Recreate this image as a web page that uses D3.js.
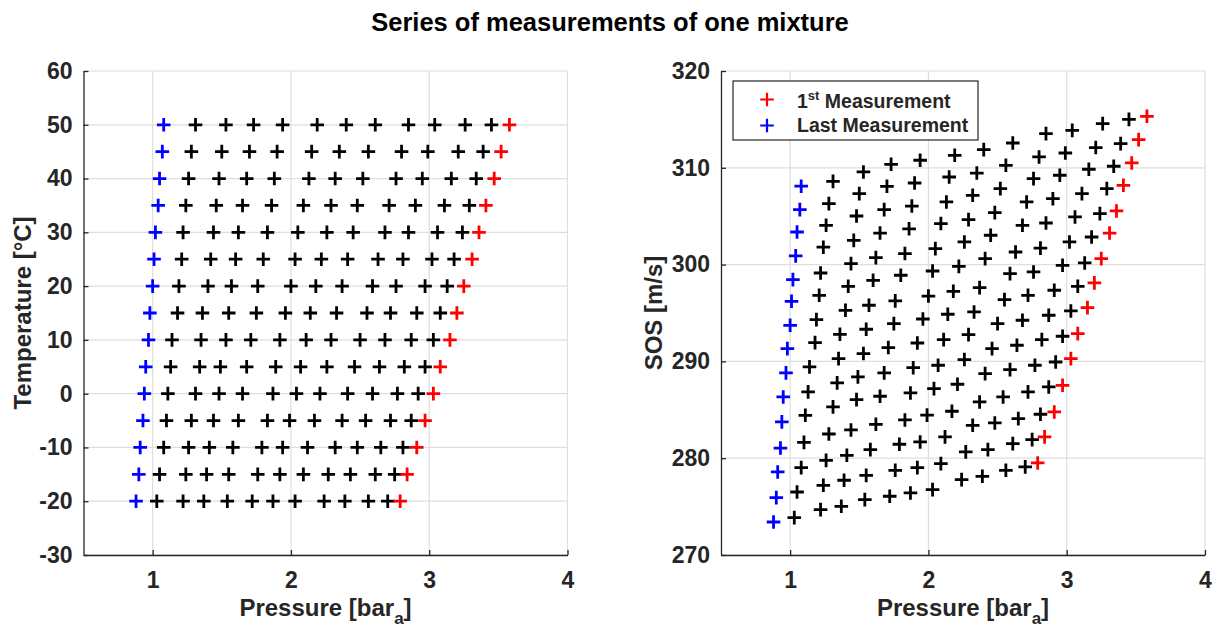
<!DOCTYPE html>
<html>
<head>
<meta charset="utf-8">
<script src="https://cdn.jsdelivr.net/npm/d3@7"></script>
<style>
  body { margin: 0; background: #fff; }
  svg text { font-family: "Liberation Sans", Arial, Helvetica, sans-serif; font-weight: bold; fill: #262626; }
</style>
</head>
<body>
<svg width="1220" height="629"></svg>
<script>
// one row per temperature step, first point = last measurement (blue), last point = 1st measurement (red)
var temperatures = [50, 45, 40, 35, 30, 25, 20, 15, 10, 5, 0, -5, -10, -15, -20];

var pressure = [
  [1.08, 1.31, 1.53, 1.73, 1.94, 2.19, 2.40, 2.61, 2.85, 3.04, 3.26, 3.45, 3.58],
  [1.07, 1.28, 1.50, 1.70, 1.90, 2.15, 2.35, 2.56, 2.80, 2.99, 3.21, 3.39, 3.52],
  [1.05, 1.26, 1.48, 1.68, 1.88, 2.13, 2.32, 2.52, 2.76, 2.95, 3.16, 3.34, 3.47],
  [1.04, 1.24, 1.46, 1.65, 1.86, 2.09, 2.29, 2.48, 2.71, 2.90, 3.11, 3.29, 3.41],
  [1.02, 1.22, 1.44, 1.62, 1.83, 2.05, 2.26, 2.45, 2.68, 2.85, 3.06, 3.24, 3.36],
  [1.01, 1.21, 1.42, 1.60, 1.80, 2.03, 2.22, 2.41, 2.63, 2.81, 3.02, 3.18, 3.31],
  [1.00, 1.19, 1.40, 1.57, 1.76, 2.00, 2.18, 2.37, 2.59, 2.76, 2.97, 3.13, 3.25],
  [0.98, 1.18, 1.36, 1.55, 1.75, 1.96, 2.14, 2.33, 2.55, 2.72, 2.91, 3.08, 3.20],
  [0.97, 1.14, 1.35, 1.53, 1.71, 1.92, 2.11, 2.29, 2.50, 2.68, 2.87, 3.03, 3.15],
  [0.95, 1.13, 1.34, 1.49, 1.68, 1.89, 2.07, 2.26, 2.46, 2.64, 2.82, 2.97, 3.08],
  [0.94, 1.11, 1.31, 1.48, 1.65, 1.87, 2.04, 2.21, 2.41, 2.59, 2.77, 2.92, 3.03],
  [0.93, 1.10, 1.28, 1.44, 1.62, 1.83, 1.99, 2.17, 2.37, 2.54, 2.72, 2.87, 2.97],
  [0.91, 1.08, 1.26, 1.41, 1.58, 1.79, 1.94, 2.12, 2.32, 2.48, 2.65, 2.81, 2.91],
  [0.90, 1.05, 1.24, 1.39, 1.55, 1.76, 1.92, 2.09, 2.27, 2.43, 2.61, 2.75, 2.84],
  [0.88, 1.03, 1.22, 1.37, 1.54, 1.72, 1.87, 2.03, 2.24, 2.39, 2.56, 2.70, 2.79]
];

var sos = [
  [308.10, 308.60, 309.57, 310.36, 310.78, 311.29, 311.88, 312.56, 313.53, 313.87, 314.56, 315.00, 315.32],
  [305.68, 306.30, 307.33, 308.09, 308.43, 309.05, 309.46, 310.26, 311.12, 311.53, 312.09, 312.50, 312.91],
  [303.37, 304.06, 305.02, 305.68, 306.05, 306.47, 307.16, 307.85, 308.88, 309.23, 309.85, 310.16, 310.50],
  [300.90, 301.80, 302.50, 303.26, 303.70, 304.24, 304.65, 305.37, 306.47, 306.81, 307.33, 307.85, 308.19],
  [298.45, 299.13, 300.10, 300.72, 301.14, 301.65, 302.34, 303.03, 304.06, 304.30, 304.92, 305.27, 305.54],
  [296.21, 296.83, 297.76, 298.38, 298.90, 299.34, 299.82, 300.62, 301.30, 301.70, 302.34, 302.85, 303.26],
  [293.73, 294.32, 295.28, 295.80, 296.25, 296.75, 297.24, 297.62, 299.07, 299.24, 299.93, 300.17, 300.62],
  [291.32, 291.94, 292.80, 293.32, 293.90, 294.38, 294.87, 295.11, 296.38, 296.83, 297.35, 297.76, 298.11],
  [288.81, 289.43, 290.29, 290.81, 291.43, 291.90, 292.25, 292.77, 293.90, 294.25, 294.77, 295.21, 295.56],
  [286.33, 286.85, 287.78, 288.40, 288.81, 289.35, 289.60, 290.19, 291.32, 291.67, 292.25, 292.60, 292.87],
  [283.75, 284.43, 285.30, 286.05, 286.40, 286.74, 287.19, 287.64, 288.74, 289.15, 289.60, 289.94, 290.29],
  [281.05, 281.63, 282.50, 282.92, 283.50, 283.95, 284.45, 284.85, 285.81, 286.33, 286.85, 287.36, 287.53],
  [278.58, 279.03, 279.78, 280.30, 280.89, 281.44, 281.68, 282.20, 283.40, 283.64, 284.09, 284.54, 284.78],
  [275.93, 276.51, 277.20, 277.72, 278.23, 278.75, 279.03, 279.44, 280.65, 280.89, 281.51, 281.92, 282.20],
  [273.41, 273.86, 274.69, 275.03, 275.72, 276.07, 276.41, 276.75, 277.79, 278.13, 278.75, 279.10, 279.51]
];

var pressureTicks = [1, 2, 3, 4];
var temperatureTicks = [-30, -20, -10, 0, 10, 20, 30, 40, 50, 60];
var sosTicks = [270, 280, 290, 300, 310, 320];
var legendNames = ["Measurement", "Last Measurement"];

var svg = d3.select("svg");

var top_ = 71, bottom = 555;
var colorOf = { mid: "#000000", first: "#ff0000", last: "#0000ff" };
var plus = "M-6.8,0H6.8M0,-6.8V6.8";

// flatten rows into points
var points = [];
temperatures.forEach(function(t, i) {
  pressure[i].forEach(function(p, j) {
    var kind = j === 0 ? "last" : (j === pressure[i].length - 1 ? "first" : "mid");
    points.push({ t: t, p: p, s: sos[i][j], kind: kind });
  });
});
var order = { mid: 0, first: 1, last: 2 };
points.sort(function(a, b) { return order[a.kind] - order[b.kind]; });

svg.append("text")
    .attr("x", 610)
    .attr("y", 31)
    .attr("text-anchor", "middle")
    .style("font-size", "25.5px")
    .style("fill", "#000")
    .text("Series of measurements of one mixture");

function panel(left, yDomain, yTicks, yValue, yLabel, labelX) {
  var x = d3.scaleLinear().domain([0.5, 4]).range([left, left + 484]);
  var y = d3.scaleLinear().domain(yDomain).range([bottom, top_]);
  var g = svg.append("g");

  // grid
  g.append("g").selectAll("line")
    .data(pressureTicks)
    .enter().append("line")
      .attr("x1", function(d) { return x(d); })
      .attr("x2", function(d) { return x(d); })
      .attr("y1", top_).attr("y2", bottom)
      .attr("stroke", "#dedede").attr("stroke-width", 1.2);
  g.append("g").selectAll("line")
    .data(yTicks)
    .enter().append("line")
      .attr("y1", function(d) { return y(d); })
      .attr("y2", function(d) { return y(d); })
      .attr("x1", left).attr("x2", left + 484)
      .attr("stroke", "#dedede").attr("stroke-width", 1.2);

  var xAxis = g.append("g")
      .attr("transform", "translate(0," + bottom + ")")
      .call(d3.axisBottom(x).tickValues(pressureTicks).tickFormat(function(d) { return String(d); })
        .tickSizeInner(-5).tickSizeOuter(0).tickPadding(17));
  var yAxis = g.append("g")
      .attr("transform", "translate(" + left + ",0)")
      .call(d3.axisLeft(y).tickValues(yTicks).tickFormat(function(d) { return String(d); })
        .tickSizeInner(-5).tickSizeOuter(0).tickPadding(11));
  [xAxis, yAxis].forEach(function(a) {
    a.selectAll("path, line").attr("stroke", "#262626").attr("stroke-width", 1.3);
    a.selectAll("text").style("font-size", "23px");
  });

  // x label with subscript
  var xl = g.append("text")
      .attr("x", left + 242)
      .attr("y", 616)
      .attr("text-anchor", "middle")
      .style("font-size", "24px");
  xl.append("tspan").text("Pressure [bar");
  xl.append("tspan").attr("dy", 8).style("font-size", "17px").text("a");
  xl.append("tspan").attr("dy", -8).text("]");

  g.append("text")
      .attr("transform", "translate(" + labelX + "," + ((top_ + bottom) / 2) + ") rotate(-90)")
      .attr("text-anchor", "middle")
      .style("font-size", "24px")
      .text(yLabel);

  g.append("g").selectAll("path")
    .data(points)
    .enter().append("path")
      .attr("d", plus)
      .attr("transform", function(d) { return "translate(" + x(d.p) + "," + y(yValue(d)) + ")"; })
      .attr("fill", "none")
      .attr("stroke", function(d) { return colorOf[d.kind]; })
      .attr("stroke-width", 2.8);

  return g;
}

panel(83.5, [-30, 60], temperatureTicks, function(d) { return d.t; }, "Temperature [°C]", 31);
var right = panel(721, [270, 320], sosTicks, function(d) { return d.s; }, "SOS [m/s]", 662);

// legend
var legend = right.append("g");
legend.append("rect")
    .attr("x", 733).attr("y", 81)
    .attr("width", 245).attr("height", 59)
    .attr("fill", "#fff")
    .attr("stroke", "#262626").attr("stroke-width", 1.2);

legend.selectAll(".legend-mark")
  .data(["first", "last"])
  .enter().append("path")
    .attr("class", "legend-mark")
    .attr("d", plus)
    .attr("transform", function(d, i) { return "translate(767," + (99.5 + i * 26) + ")"; })
    .attr("fill", "none")
    .attr("stroke", function(d) { return colorOf[d]; })
    .attr("stroke-width", 2.2);

var l1 = legend.append("text").attr("x", 797).attr("y", 108).style("font-size", "19.5px");
l1.append("tspan").text("1");
l1.append("tspan").attr("dy", -8).style("font-size", "13px").text("st");
l1.append("tspan").attr("dy", 8).text(" " + legendNames[0]);

legend.append("text").attr("x", 797).attr("y", 132).style("font-size", "19.5px").text(legendNames[1]);
</script>
</body>
</html>
